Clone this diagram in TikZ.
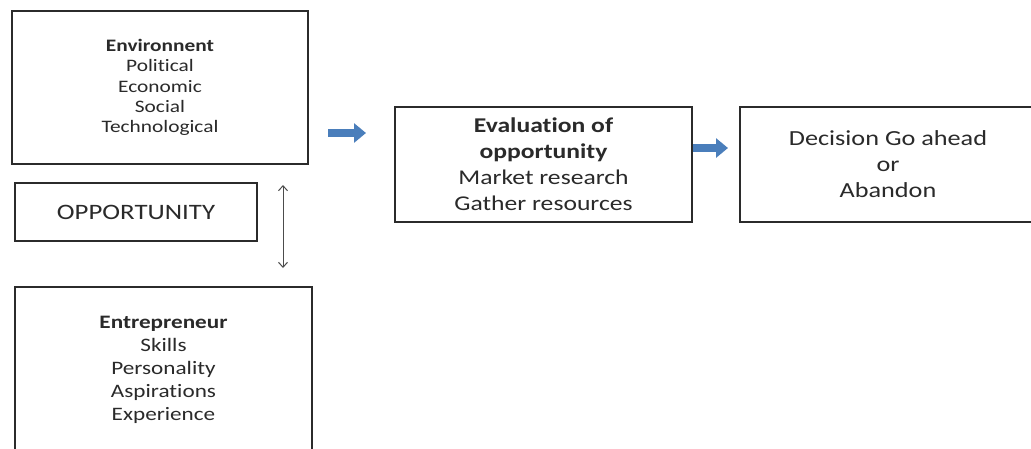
\documentclass[tikz,border=0pt]{standalone}
\usepackage{fontspec}
\setmainfont{Carlito}[FakeStretch=1.22,Ligatures={NoCommon,NoContextual},Contextuals={NoAlternate}]
\usetikzlibrary{arrows.meta}
\definecolor{boxline}{HTML}{2B2B2B}
\definecolor{txt}{HTML}{2A2A2A}
\definecolor{blockblue}{HTML}{4A7EBB}
\tikzset{
  frame/.style={draw=boxline, line width=2.6pt, fill=none, inner sep=0pt, align=center, text=txt, anchor=center},
  bluearrow/.style={draw=blockblue, line width=7.5pt, -{Triangle[width=19pt,length=12pt]}},
  thinarrow/.style={draw=black!70, line width=1pt, {Straight Barb[length=5pt,width=9pt]}-{Straight Barb[length=5pt,width=9pt]}}
}
\begin{document}
\begin{tikzpicture}[x=1pt,y=-1pt]
\useasboundingbox (0,0) rectangle (1031,448);
\clip (0,0) rectangle (1031,448);
\fill[white] (0,0) rectangle (1031,448);
\node[frame, minimum width=296pt, minimum height=153pt, font=\fontsize{17.5}{20.2}\selectfont] (env) at (160,87.5)
  {\textbf{Environnent}\\Polit\kern0pt ical\\Economic\\Social\\Technological};
\node[frame, minimum width=242pt, minimum height=58pt, font=\fontsize{22}{26}\selectfont] (opp) at (136,212) {OPPORTUNITY};
\node[frame, minimum width=297pt, minimum height=166pt, font=\fontsize{19}{23}\selectfont] (ent) at (163.5,370)
  {\textbf{Entrepreneur}\\Skills\\Personality\\Aspirat\kern0pt ions\\Experience};
\node[frame, minimum width=297pt, minimum height=115pt, font=\fontsize{21}{26}\selectfont] (eval) at (543.5,164.5)
  {\textbf{Evaluat\kern0pt ion of}\\\textbf{opportunity}\\Market research\\Gather resources};
\node[frame, minimum width=296pt, minimum height=115pt, font=\fontsize{21.5}{26}\selectfont] (dec) at (888,164.5)
  {Decision Go ahead\\or\\Abandon};
\coordinate (d1) at (283,185);
\coordinate (d2) at (283,268);
\draw[thinarrow] (d1) -- (d2);
\coordinate (b1s) at (328,133);
\coordinate (b1e) at (366,133);
\draw[bluearrow] (b1s) -- (b1e);
\coordinate (b2s) at (eval.east |- 0,148);
\coordinate (b2e) at (728,148);
\draw[bluearrow] (b2s) -- (b2e);
\end{tikzpicture}
\end{document}
